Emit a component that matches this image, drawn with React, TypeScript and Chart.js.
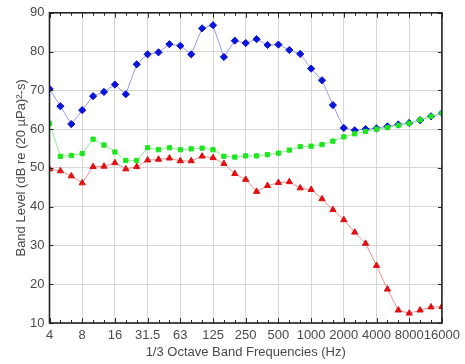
import React, { useEffect, useRef } from "react";
import { Chart, registerables } from "chart.js";

Chart.register(...registerables);

const bands = [
  "4", "5", "6.3", "8", "10", "12.5", "16", "20", "25", "31.5", "40", "50", "63", "80", "100", "125",
  "160", "200", "250", "315", "400", "500", "630", "800", "1000", "1250", "1600", "2000", "2500",
  "3150", "4000", "5000", "6300", "8000", "10000", "12500", "16000",
];

const blueSeries = [
  70.4, 65.9, 61.3, 64.9, 68.5, 69.6, 71.5, 69.0, 76.7, 79.3, 79.8, 81.9, 81.5, 79.3, 86.0, 86.8,
  78.6, 82.8, 82.2, 83.2, 81.7, 81.8, 80.4, 79.4, 75.6, 72.6, 66.2, 60.3, 59.7, 60.0, 60.2, 60.7,
  61.2, 61.6, 62.3, 63.3, 64.1,
];

const greenSeries = [
  61.5, 53.0, 53.2, 53.7, 57.4, 55.9, 54.1, 51.9, 51.9, 55.2, 54.7, 55.2, 54.7, 54.9, 55.1, 54.7,
  53.0, 52.8, 53.1, 53.1, 53.4, 53.8, 54.6, 55.5, 55.6, 56.0, 56.9, 58.0, 58.8, 59.4, 60.0, 60.4,
  61.0, 61.5, 62.4, 63.3, 64.1,
];

const redSeries = [
  49.7, 49.2, 47.9, 46.1, 50.3, 50.4, 51.3, 49.7, 50.3, 52.0, 52.2, 52.5, 51.8, 51.8, 53.0, 52.6,
  51.1, 48.5, 47.0, 43.9, 45.4, 46.2, 46.4, 44.8, 44.4, 42.0, 39.2, 36.6, 33.4, 30.5, 24.8, 18.7,
  13.3, 12.5, 13.3, 14.1, 14.2,
];

const yMin = 10;
const yMax = 90;

const FONT = "'Liberation Sans', Arial, sans-serif";
const TEXT = "#4a4a4a";

const boxPlugin = {
  id: "boxTicks",
  afterDraw(chart: any) {
    const { ctx, chartArea } = chart;
    const { left, right, top, bottom } = chartArea;
    const xs = chart.scales.x;
    const ys = chart.scales.y;
    ctx.save();
    ctx.strokeStyle = "#2a2a2a";
    ctx.lineWidth = 1;
    ctx.beginPath();
    for (let i = 0; i < bands.length; i++) {
      const px = Math.round(xs.getPixelForValue(i)) + 0.5;
      const len = i % 3 === 0 ? 5 : 3;
      ctx.moveTo(px, bottom);
      ctx.lineTo(px, bottom - len);
      ctx.moveTo(px, top);
      ctx.lineTo(px, top + len);
    }
    for (let v = yMin; v <= yMax; v += 10) {
      const py = Math.round(ys.getPixelForValue(v)) + 0.5;
      ctx.moveTo(left, py);
      ctx.lineTo(left + 4, py);
      ctx.moveTo(right, py);
      ctx.lineTo(right - 4, py);
    }
    ctx.stroke();
    ctx.lineWidth = 1.6;
    ctx.strokeStyle = "#222";
    ctx.strokeRect(left, top, right - left, bottom - top);
    ctx.restore();
  },
};

export default function App() {
  const ref = useRef<HTMLCanvasElement | null>(null);

  useEffect(() => {
    if (!ref.current) return;
    const mk = (arr: number[]) => arr.map((y, i) => ({ x: i, y }));
    const chart = new Chart(ref.current, {
      type: "line",
      data: {
        datasets: [
          {
            data: mk(blueSeries),
            order: 2,
            borderColor: "#9a9af0",
            borderWidth: 1,
            pointStyle: "rectRot",
            pointRadius: 3.6,
            pointBackgroundColor: "#0a14d8",
            pointBorderColor: "#0a14d8",
            pointBorderWidth: 1,
            tension: 0,
          },
          {
            data: mk(greenSeries),
            order: 1,
            borderColor: "#90ee90",
            borderWidth: 1,
            pointStyle: "rect",
            pointRadius: 3,
            pointBackgroundColor: "#1ee61e",
            pointBorderColor: "#1ee61e",
            pointBorderWidth: 1,
            tension: 0,
          },
          {
            data: mk(redSeries),
            order: 0,
            borderColor: "#f09090",
            borderWidth: 1,
            pointStyle: "triangle",
            pointRadius: 3.6,
            pointBackgroundColor: "#e01010",
            pointBorderColor: "#e01010",
            pointBorderWidth: 1,
            tension: 0,
          },
        ],
      },
      options: {
        animation: false,
        responsive: false,
        maintainAspectRatio: false,
        layout: { padding: { top: 11, right: 18, left: 0, bottom: 0 } },
        plugins: { legend: { display: false }, tooltip: { enabled: false } },
        scales: {
          x: {
            type: "linear",
            min: 0,
            max: bands.length - 1,
            border: { display: false },
            grid: { color: "#d6d6d6", lineWidth: 1, drawTicks: false },
            afterBuildTicks: (scale: any) => {
              const t: any[] = [];
              for (let i = 0; i < bands.length; i += 3) t.push({ value: i });
              scale.ticks = t;
            },
            ticks: {
              color: TEXT,
              font: { family: FONT, size: 13 },
              padding: 5,
              maxRotation: 0,
              autoSkip: false,
              callback: (v: any) => bands[Number(v)] ?? "",
            },
            title: {
              display: true,
              text: "1/3 Octave Band Frequencies (Hz)",
              color: TEXT,
              font: { family: FONT, size: 13 },
              padding: { top: 0, bottom: 4 },
            },
            afterFit: (scale: any) => {
              scale.height = 41;
            },
          },
          y: {
            min: yMin,
            max: yMax,
            border: { display: false },
            grid: { color: "#d6d6d6", lineWidth: 1, drawTicks: false },
            ticks: {
              stepSize: 10,
              color: TEXT,
              font: { family: FONT, size: 13 },
              padding: 5,
            },
            title: {
              display: true,
              text: "Band Level (dB re (20 \u00b5Pa)\u00b2-s)",
              color: TEXT,
              font: { family: FONT, size: 13 },
              padding: { top: 14, bottom: 0 },
            },
            afterFit: (scale: any) => {
              scale.width = 49.5;
            },
          },
        },
      },
      plugins: [boxPlugin],
    } as any);
    return () => chart.destroy();
  }, []);

  return (
    <div style={{ position: "absolute", left: 0, top: 0, width: 465, height: 364, background: "#fff" }}>
      <canvas ref={ref} width={465} height={364} style={{ width: 465, height: 364 }} />
    </div>
  );
}
